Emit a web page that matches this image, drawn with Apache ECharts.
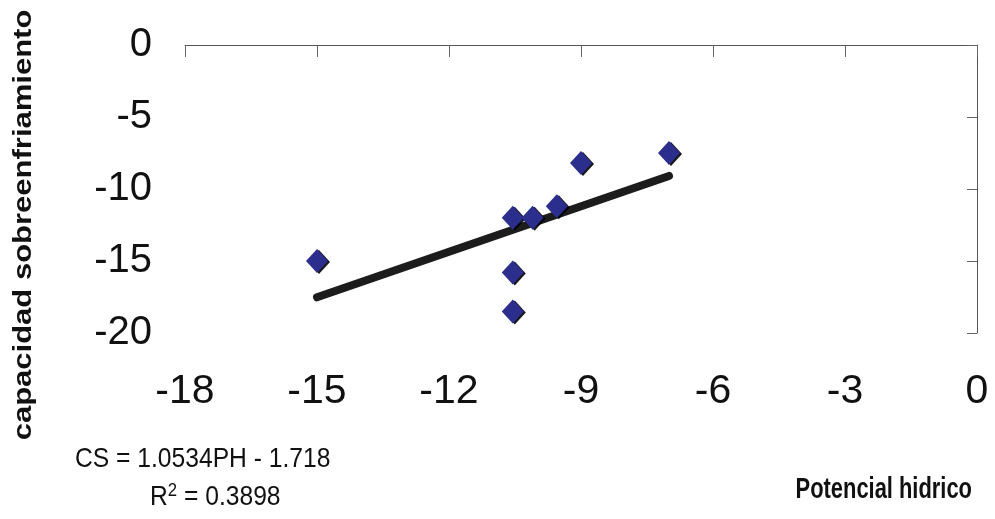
<!DOCTYPE html>
<html>
<head>
<meta charset="utf-8">
<script src="https://cdn.jsdelivr.net/npm/echarts@6/dist/echarts.min.js"></script>
<style>html,body{margin:0;padding:0;background:#fff}#c{width:995px;height:519px}</style>
</head>
<body>
<div id="c"></div>
<script>
// Data
const potencialHidrico = [-15.0, -10.55, -10.55, -10.55, -10.1, -9.55, -9.0, -7.0];
const capacidadSobre  = [-15.0, -12.0, -15.8, -18.5, -12.0, -11.2, -8.2, -7.5];
const slope = 1.0534;
const intercept = -1.718;
const r2 = 0.3898;
const xTicks = [-18, -15, -12, -9, -6, -3, 0];
const yTicks = [0, -5, -10, -15, -20];

const points = potencialHidrico.map((x, i) => [x, capacidadSobre[i]]);
const xMin = Math.min(...potencialHidrico), xMax = Math.max(...potencialHidrico);
const trend = [[xMin, slope * xMin + intercept], [xMax, slope * xMax + intercept]];

const font = "'Liberation Sans', Arial, sans-serif";
const chart = echarts.init(document.getElementById('c'), null, {renderer: 'canvas'});
chart.setOption({
  animation: false,
  backgroundColor: '#ffffff',
  grid: {left: 185, right: 18, top: 45, bottom: 186},
  xAxis: [
    {type: 'value', min: xTicks[0], max: xTicks[xTicks.length - 1], interval: 3, position: 'bottom',
     axisLine: {show: false}, axisTick: {show: false}, splitLine: {show: false},
     axisLabel: {fontFamily: font, fontSize: 41, color: '#111', margin: 38}},
    {type: 'value', min: xTicks[0], max: xTicks[xTicks.length - 1], interval: 3, position: 'top',
     axisLine: {show: true, lineStyle: {color: '#555', width: 1}},
     axisTick: {show: true, inside: true, length: 12, lineStyle: {color: '#666'}},
     axisLabel: {show: false}, splitLine: {show: false}}
  ],
  yAxis: [
    {type: 'value', min: yTicks[yTicks.length - 1], max: yTicks[0], interval: 5, position: 'left',
     axisLine: {show: false}, axisTick: {show: false}, splitLine: {show: false},
     axisLabel: {fontFamily: font, fontSize: 40, color: '#111', margin: 33}},
    {type: 'value', min: yTicks[yTicks.length - 1], max: yTicks[0], interval: 5, position: 'right',
     axisLine: {show: true, lineStyle: {color: '#555', width: 1}},
     axisTick: {show: true, inside: true, length: 10, lineStyle: {color: '#666'}},
     axisLabel: {show: false}, splitLine: {show: false}}
  ],
  series: [
    {type: 'line', data: trend, xAxisIndex: 0, yAxisIndex: 0, symbol: 'none',
     lineStyle: {color: '#1c1c1c', width: 8, cap: 'round'}, z: 2},
    {type: 'scatter', data: points, xAxisIndex: 0, yAxisIndex: 0, symbol: 'diamond', symbolSize: [22, 24],
     itemStyle: {color: '#2b2e8c', opacity: 1, shadowColor: 'rgba(0,0,0,0.9)', shadowOffsetX: 2, shadowOffsetY: 1, shadowBlur: 0}, z: 3}
  ],
  graphic: [
    {type: 'text', rotation: Math.PI / 2, position: [24, 225], scaleX: 1.24,
     style: {text: 'capacidad sobreenfriamiento', font: 'bold 25px ' + font, fill: '#111',
       textAlign: 'center', textVerticalAlign: 'middle'}},
    {type: 'text', position: [75, 459], scaleX: 0.88,
     style: {text: 'CS = ' + slope + 'PH - ' + Math.abs(intercept), font: '28px ' + font, fill: '#111', textVerticalAlign: 'middle'}},
    {type: 'text', position: [150, 497], scaleX: 0.88,
     style: {text: '{a|R}{s|2}{a| = ' + r2 + '}', fill: '#111', textVerticalAlign: 'middle',
       rich: {a: {fontFamily: font, fontSize: 28, color: '#111'}, s: {fontFamily: font, fontSize: 19, color: '#111', verticalAlign: 'top', padding: [0,0,12,0]}}}},
    {type: 'text', position: [972, 490], scaleX: 0.73,
     style: {text: 'Potencial hidrico', font: 'bold 30px ' + font, fill: '#111', textAlign: 'right', textVerticalAlign: 'middle'}}
  ]
});
</script>
</body>
</html>
